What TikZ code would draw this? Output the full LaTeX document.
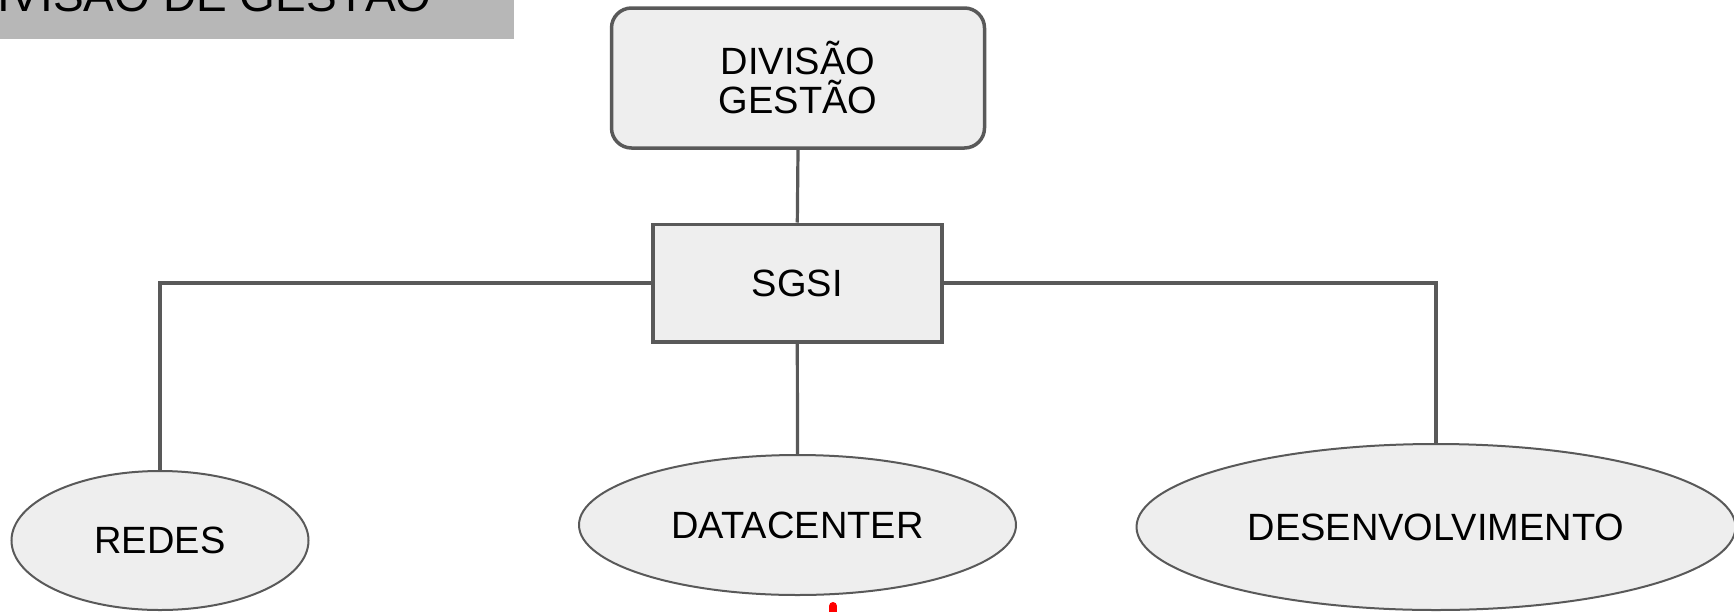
\documentclass[tikz,border=0pt]{standalone}
\usepackage{fontspec}
\setmainfont{Liberation Sans}
\usetikzlibrary{shapes.geometric}
\definecolor{bordergray}{HTML}{595959}
\definecolor{boxfill}{HTML}{EEEEEE}
\definecolor{titlefill}{HTML}{B7B7B7}
\begin{document}
\begin{tikzpicture}[x=0.5pt,y=-0.5pt,
  lbl/.style={font=\fontsize{19}{19.5}\selectfont, text=black, align=center},
  gbox/.style={lbl, draw=bordergray, fill=boxfill, line width=1.75pt, inner sep=0pt},
  gell/.style={lbl, ellipse, draw=bordergray, fill=boxfill, line width=1pt, inner sep=0pt},
  conn/.style={draw=bordergray, line width=1.6pt}
]
\useasboundingbox (0,0) rectangle (1734,611);
\clip (0,0) rectangle (1734,611);

% title banner
\node[fill=titlefill, minimum width=257pt, minimum height=19.5pt, inner sep=0pt, anchor=north west] (titlebox) at (0,0) {};
\node[font=\fontsize{23}{24}\selectfont, inner sep=0pt, anchor=base east] (titletext) at (432,11) {DIVISÃO DE GESTÃO};

% nodes
\node[gbox, rounded corners=10pt, minimum width=186.5pt, minimum height=70pt] (div) at (798,78) {DIVISÃO\\GESTÃO};
\node[gbox, minimum width=144.5pt, minimum height=58.75pt] (sgsi) at (797.3,283) {SGSI};
\node[gell, minimum width=148.5pt, minimum height=69.5pt] (redes) at (160,540.5) {REDES};
\node[gell, minimum width=218.5pt, minimum height=70pt] (dc) at (797.5,525) {DATACENTER};
\node[gell, minimum width=299.5pt, minimum height=83pt] (desenv) at (1436,527) {DESENVOLVIMENTO};

% connectors
\draw[conn] (div.south) -- (sgsi.north);
\draw[conn] (sgsi.west) -| (redes.north);
\draw[conn] (sgsi.east) -| (desenv.north);
\draw[conn] (sgsi.south) -- (dc.north);

% red connector stub at bottom
\coordinate (redtop) at (833,606);
\coordinate (redbot) at (833,650);
\draw[red, line width=4pt, line cap=round] (redtop) -- (redbot);
\end{tikzpicture}
\end{document}
